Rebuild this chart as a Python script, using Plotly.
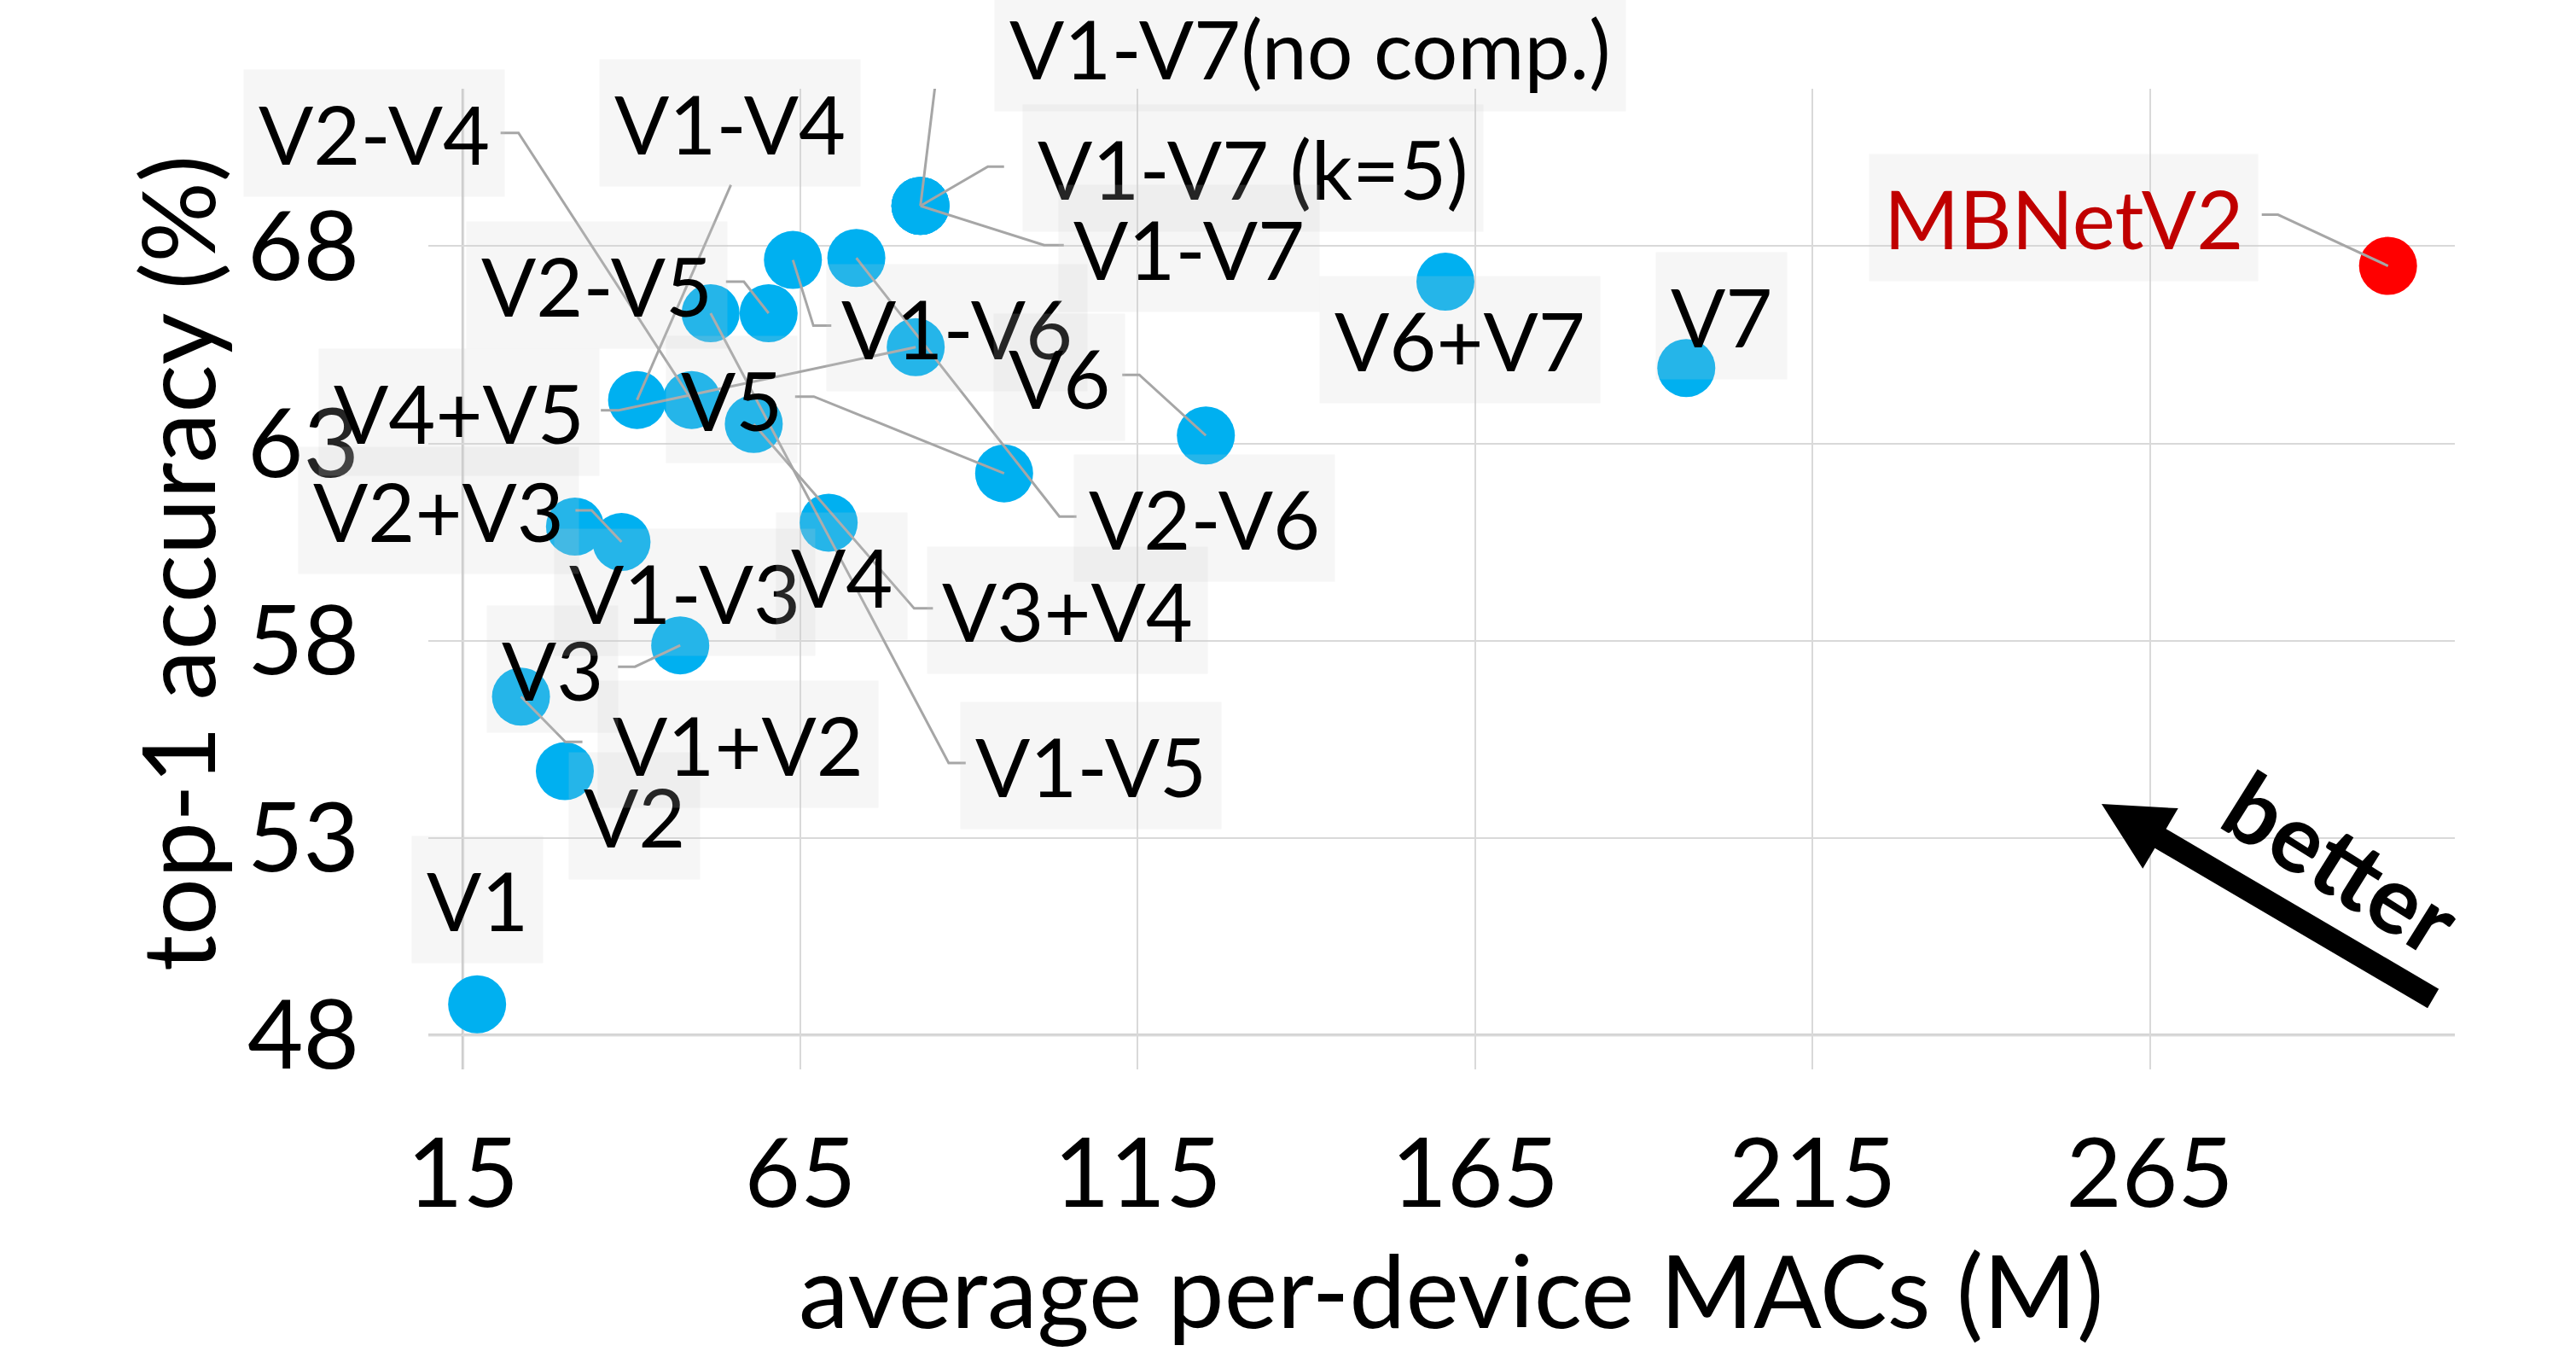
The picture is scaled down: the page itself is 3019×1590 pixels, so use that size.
import plotly.graph_objects as go

# ---------------- data ----------------
labels = ["V1", "V2", "V1+V2", "V3", "V1-V3", "V2+V3", "V4", "V3+V4", "V1-V4", "V2-V4",
          "V1-V5", "V2-V5", "V1-V6", "V2-V6", "V1-V7(no comp.)", "V1-V7 (k=5)", "V1-V7",
          "V4+V5", "V5", "V6", "V6+V7", "V7"]
macs = [17.1, 30.1, 23.6, 47.2, 31.6, 38.5, 69.2, 58.1, 40.8, 48.9,
        51.7, 60.3, 63.9, 73.3, 82.8, 82.8, 82.8,
        82.1, 95.2, 125.1, 160.6, 196.3]
acc = [48.78, 54.69, 56.58, 57.88, 60.89, 60.50, 60.99, 63.49, 64.10, 64.10,
       66.30, 66.30, 67.65, 67.70, 69.02, 69.02, 69.02,
       65.44, 62.24, 63.20, 67.10, 64.91]
base_labels = ["MBNetV2"]
base_macs = [300.3]
base_acc = [67.50]
x_ticks = [15, 65, 115, 165, 215, 265]
y_ticks = [48, 53, 58, 63, 68]

# ---------------- layout geometry / label placement (pixels) ----------------
W, H = 3019, 1590
L, R, T, B = 502, 142, 104, 337
PW, PH = W - L - R, H - T - B

# label centre offset from marker (dx, dy), leader: (edge point, elbow point) offsets or None
label_layout = {
    "V1": ((0, -123), None),
    "V2": ((82, 52), None),
    "V1+V2": ((254, 56), ((72, 53), (52, 53))),
    "V3": ((-150, 28), ((-73, 25), (-53, 25))),
    "V1-V3": ((129, 77), None),
    "V2+V3": ((-214, -37), ((-54, -37), (-35, -37))),
    "V4": ((15, 63), None),
    "V3+V4": ((368, 218), ((210, 216), (188, 216))),
    "V1-V4": ((109, -325), ((110, -252), None)),
    "V2-V4": ((-372, -313), ((-224, -313), (-203, -313))),
    "V1-V5": ((446, 530), ((299, 527), (279, 527))),
    "V2-V5": ((-201, -33), ((-50, -37), (-29, -37))),
    "V1-V6": ((192, 79), ((45, 77), (24, 77))),
    "V2-V6": ((408, 305), ((258, 303), (238, 303))),
    "V1-V7(no comp.)": ((457, -185), ((46, -188), (23, -188))),
    "V1-V7 (k=5)": ((390, -44), ((98, -46), (79, -46))),
    "V1-V7": ((315, 50), ((168, 46), (145, 46))),
    "V4+V5": ((-535, 76), ((-369, 74), (-348, 74))),
    "V5": ((-319, -87), ((-245, -90), (-223, -90))),
    "V6": ((-172, -68), ((-98, -71), (-78, -71))),
    "V6+V7": ((17, 68), None),
    "V7": ((41, -61), None),
    "MBNetV2": ((-380, -57), ((-148, -60), (-129, -60))),
}

FONT = "Lato"
LABEL_SIZE = 95
AXIS_SIZE = 113
TITLE_SIZE = 118
BOX_BG = "rgba(205,205,205,0.18)"
LEADER = "#a6a6a6"

fig = go.Figure()
fig.add_trace(go.Scatter(x=macs, y=acc, mode="markers",
                         marker=dict(size=68, color="#00B0F0", line=dict(width=0)),
                         hoverinfo="text", text=labels, showlegend=False))
fig.add_trace(go.Scatter(x=base_macs, y=base_acc, mode="markers",
                         marker=dict(size=68, color="#FF0000", line=dict(width=0)),
                         hoverinfo="text", text=base_labels, showlegend=False))

annotations = []
shapes = []

def add_label(name, xv, yv, color):
    (dx, dy), leader = label_layout[name]
    annotations.append(dict(x=xv, y=yv, xref="x", yref="y", text=name, showarrow=False,
                            xshift=dx, yshift=-dy, xanchor="center", yanchor="middle",
                            font=dict(family=FONT, size=LABEL_SIZE, color=color),
                            bgcolor=BOX_BG, borderpad=17))
    if leader is not None:
        edge, elbow = leader
        path = "M0,0"
        if elbow is not None:
            path += f" L{elbow[0]},{-elbow[1]}"
        path += f" L{edge[0]},{-edge[1]}"
        shapes.append(dict(type="path", xref="x", yref="y", xsizemode="pixel", ysizemode="pixel",
                           xanchor=xv, yanchor=yv, path=path,
                           line=dict(color=LEADER, width=3), layer="above"))

for n, xv, yv in zip(labels, macs, acc):
    add_label(n, xv, yv, "#000000")
for n, xv, yv in zip(base_labels, base_macs, base_acc):
    add_label(n, xv, yv, "#C00000")

# darker axis lines (crossing lines)
shapes.append(dict(type="line", xref="paper", yref="y", x0=0, x1=1, y0=y_ticks[0], y1=y_ticks[0],
                   line=dict(color="#bfbfbf", width=3), layer="between"))
shapes.append(dict(type="line", xref="x", yref="paper", x0=x_ticks[0], x1=x_ticks[0], y0=0, y1=1,
                   line=dict(color="#bfbfbf", width=3), layer="between"))

# "better" arrow (pixel geometry -> paper)
def to_paper(px, py):
    return (px - L) / PW, (H - B - py) / PH

tip = (2463.0, 942.0)
tail = (2851.6, 1170.0)
ux, uy = tail[0] - tip[0], tail[1] - tip[1]
ln = (ux ** 2 + uy ** 2) ** 0.5
ux, uy = ux / ln, uy / ln
nx, ny = -uy, ux
hl, hw, sw = 80.0, 41.0, 13.0
pts = [tip,
       (tip[0] + hl * ux + hw * nx, tip[1] + hl * uy + hw * ny),
       (tip[0] + hl * ux + sw * nx, tip[1] + hl * uy + sw * ny),
       (tip[0] + ln * ux + sw * nx, tip[1] + ln * uy + sw * ny),
       (tip[0] + ln * ux - sw * nx, tip[1] + ln * uy - sw * ny),
       (tip[0] + hl * ux - sw * nx, tip[1] + hl * uy - sw * ny),
       (tip[0] + hl * ux - hw * nx, tip[1] + hl * uy - hw * ny)]
pp = [to_paper(*p) for p in pts]
path = "M" + " L".join(f"{a:.5f},{b:.5f}" for a, b in pp) + " Z"
shapes.append(dict(type="path", xref="paper", yref="paper", path=path,
                   fillcolor="#000000", line=dict(width=0), layer="above"))

bx, by = to_paper(2745, 1009)
annotations.append(dict(x=bx, y=by, xref="paper", yref="paper", text="<b>better</b>",
                        showarrow=False, textangle=32, xanchor="center", yanchor="middle",
                        font=dict(family=FONT, size=110, color="#000000")))

# axis titles
tx, ty = to_paper(1700, 1510)
annotations.append(dict(x=tx, y=ty, xref="paper", yref="paper", text="average per-device MACs (M)",
                        showarrow=False, xanchor="center", yanchor="middle",
                        font=dict(family=FONT, size=TITLE_SIZE, color="#000000")))
yx, yy = to_paper(206, 660)
annotations.append(dict(x=yx, y=yy, xref="paper", yref="paper", text="top-1 accuracy (%)",
                        showarrow=False, textangle=-90, xanchor="center", yanchor="middle",
                        font=dict(family=FONT, size=TITLE_SIZE, color="#000000")))

fig.update_layout(
    width=W, height=H,
    margin=dict(l=L, r=R, t=T, b=B),
    paper_bgcolor="white", plot_bgcolor="white",
    showlegend=False,
    annotations=annotations, shapes=shapes,
    xaxis=dict(range=[9.87, 310.2], tickvals=x_ticks, ticktext=[str(v) for v in x_ticks],
               showgrid=True, gridcolor="#d9d9d9", gridwidth=2.25, zeroline=False,
               showline=False, ticks="", ticklabelstandoff=47,
               tickfont=dict(family=FONT, size=AXIS_SIZE, color="#000000")),
    yaxis=dict(range=[47.13, 71.99], tickvals=y_ticks, ticktext=[str(v) for v in y_ticks],
               showgrid=True, gridcolor="#d9d9d9", gridwidth=2.25, zeroline=False,
               showline=False, ticks="", ticklabelstandoff=80,
               tickfont=dict(family=FONT, size=AXIS_SIZE, color="#000000")),
)

fig.write_html("out.html", config={"displayModeBar": False},
               post_script="document.body.style.margin='0px';")
